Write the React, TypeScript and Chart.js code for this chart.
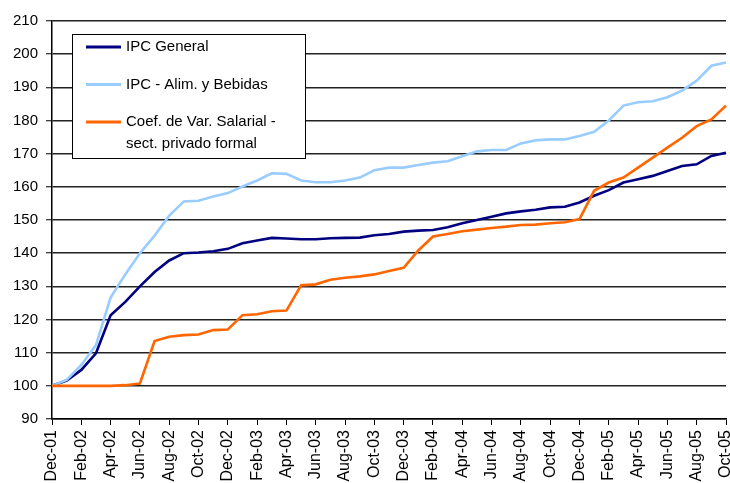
import React, { useEffect, useRef } from "react";
import { Chart, registerables } from "chart.js";

Chart.register(...registerables);

const months: string[] = [
  "Dec-01",
  "Jan-02", "Feb-02", "Mar-02", "Apr-02", "May-02", "Jun-02", "Jul-02", "Aug-02", "Sep-02", "Oct-02", "Nov-02", "Dec-02",
  "Jan-03", "Feb-03", "Mar-03", "Apr-03", "May-03", "Jun-03", "Jul-03", "Aug-03", "Sep-03", "Oct-03", "Nov-03", "Dec-03",
  "Jan-04", "Feb-04", "Mar-04", "Apr-04", "May-04", "Jun-04", "Jul-04", "Aug-04", "Sep-04", "Oct-04", "Nov-04", "Dec-04",
  "Jan-05", "Feb-05", "Mar-05", "Apr-05", "May-05", "Jun-05", "Jul-05", "Aug-05", "Sep-05", "Oct-05",
];

const ipcGeneral: number[] = [
  100, 101.6, 104.8, 109.8, 121.3, 125.3, 130, 134.3, 137.8, 140, 140.2, 140.6, 141.3,
  143, 143.8, 144.6, 144.4, 144.2, 144.2, 144.5, 144.6, 144.7, 145.4, 145.8, 146.5,
  146.8, 147, 147.8, 149, 150, 151, 152, 152.6, 153.1, 153.8, 154, 155.3,
  157.3, 159, 161.3, 162.3, 163.3, 164.8, 166.3, 166.8, 169.3, 170.3,
];

const ipcAlimentos: number[] = [
  100, 101.8, 106.3, 112.3, 126.6, 133.6, 140, 145.3, 151.3, 155.6, 155.8, 157.1, 158.1,
  160.1, 161.9, 164.1, 163.9, 161.9, 161.4, 161.4, 161.9, 162.8, 165, 165.8, 165.8,
  166.6, 167.3, 167.7, 169.2, 170.7, 171.1, 171.1, 173.1, 174, 174.3, 174.3, 175.3,
  176.6, 180, 184.5, 185.5, 185.8, 187, 189, 192, 196.5, 197.5,
];

const coefSalarial: number[] = [
  100, 100, 100, 100, 100, 100.2, 100.7, 113.5, 114.8, 115.3, 115.5, 116.8, 117,
  121.3, 121.6, 122.5, 122.7, 130.3, 130.6, 132, 132.6, 133, 133.6, 134.6, 135.6,
  140.8, 145, 145.8, 146.6, 147.1, 147.6, 148, 148.5, 148.6, 149, 149.3, 150.3,
  158.8, 161.3, 162.8, 165.8, 168.8, 171.8, 174.8, 178.3, 180.3, 184.5,
];

const legendLines: string[][] = [
  ["IPC General"],
  ["IPC - Alim. y Bebidas"],
  ["Coef. de Var. Salarial -", "sect. privado formal"],
];

const yTicks: number[] = [90, 100, 110, 120, 130, 140, 150, 160, 170, 180, 190, 200, 210];

const FONT = "'Liberation Sans', Arial, sans-serif";

const legendPlugin = {
  id: "boxLegend",
  afterDraw(chart: any) {
    const { ctx, chartArea } = chart;
    const left = chartArea.left + 20;
    const top = chartArea.top + 13;
    const w = 233;
    const h = 124;
    ctx.save();
    ctx.fillStyle = "#ffffff";
    ctx.fillRect(left, top, w, h);
    ctx.strokeStyle = "#000000";
    ctx.lineWidth = 1;
    ctx.strokeRect(left + 0.5, top + 0.5, w, h);
    const rowY = [top + 13, top + 50.5, top + 88];
    ctx.font = `15px ${FONT}`;
    ctx.textBaseline = "middle";
    ctx.fillStyle = "#000000";
    chart.data.datasets.forEach((ds: any, i: number) => {
      const y = rowY[i];
      ctx.strokeStyle = ds.borderColor;
      ctx.lineWidth = 3;
      ctx.beginPath();
      ctx.moveTo(left + 14, y);
      ctx.lineTo(left + 49, y);
      ctx.stroke();
      legendLines[i].forEach((t, k) => {
        ctx.fillText(t, left + 54, y + k * 22);
      });
    });
    ctx.restore();
  },
};

export default function App() {
  const ref = useRef<HTMLCanvasElement | null>(null);

  useEffect(() => {
    if (!ref.current) return;
    const chart = new Chart(ref.current, {
      type: "line",
      data: {
        labels: months,
        datasets: [
          {
            label: legendLines[0].join(" "),
            data: ipcGeneral,
            borderColor: "#000080",
            borderWidth: 2.6,
            pointRadius: 0,
            tension: 0,
            fill: false,
            order: 3,
          },
          {
            label: legendLines[1].join(" "),
            data: ipcAlimentos,
            borderColor: "#99CCFF",
            borderWidth: 2.6,
            pointRadius: 0,
            tension: 0,
            fill: false,
            order: 2,
          },
          {
            label: legendLines[2].join(" "),
            data: coefSalarial,
            borderColor: "#FF6600",
            borderWidth: 2.6,
            pointRadius: 0,
            tension: 0,
            fill: false,
            order: 1,
          },
        ],
      },
      options: {
        responsive: false,
        animation: false,
        devicePixelRatio: 1,
        layout: { padding: { top: 21, right: 0, left: 0, bottom: 0 } },
        plugins: {
          legend: { display: false },
          tooltip: { enabled: false },
        },
        scales: {
          x: {
            type: "category",
            offset: false,
            grid: {
              drawOnChartArea: false,
              drawTicks: true,
              tickLength: 6,
              tickColor: "#000000",
              tickWidth: 1,
            },
            border: { display: true, color: "#000000", width: 1.5 },
            ticks: {
              autoSkip: false,
              maxRotation: 90,
              minRotation: 90,
              padding: 5,
              color: "#000000",
              font: { family: FONT, size: 16 },
              callback: (_v: any, i: number) => (i % 2 === 0 ? months[i] : null),
            },
            afterFit: (scale: any) => {
              scale.height = 64;
              scale.paddingLeft = 0;
              scale.paddingRight = 4;
            },
          },
          y: {
            min: yTicks[0],
            max: yTicks[yTicks.length - 1],
            afterBuildTicks: (scale: any) => {
              scale.ticks = yTicks.map((v) => ({ value: v }));
            },
            grid: {
              color: "#222222",
              lineWidth: 1.5,
              drawTicks: true,
              tickLength: 6,
              tickColor: "#000000",
              tickWidth: 1,
            },
            border: { display: true, color: "#000000", width: 1.5 },
            ticks: {
              padding: 8,
              color: "#000000",
              font: { family: FONT, size: 15 },
            },
            afterFit: (scale: any) => {
              scale.width = 52;
            },
          },
        },
      },
      plugins: [legendPlugin],
    });
    return () => chart.destroy();
  }, []);

  return (
    <div style={{ position: "absolute", left: 0, top: 0, width: 730, height: 483, background: "#fff" }}>
      <canvas ref={ref} width={730} height={483} style={{ width: 730, height: 483, display: "block" }} />
    </div>
  );
}
